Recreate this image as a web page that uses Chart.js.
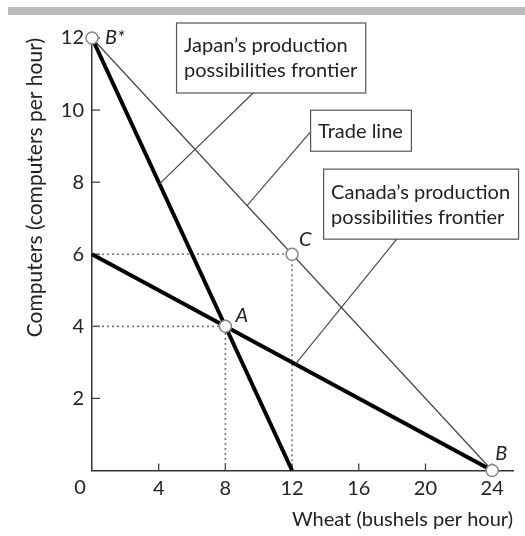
<!DOCTYPE html>
<html>
<head>
<meta charset="utf-8">
<script src="https://cdn.jsdelivr.net/npm/chart.js@4.4.0/dist/chart.umd.min.js"></script>
<style>
  html, body { margin:0; padding:0; background:#fff; }
  #wrap { position:relative; width:525px; height:536px; }
  #topbar { position:absolute; left:8px; top:7px; width:517px; height:8px; background:#bbb; }
</style>
</head>
<body>
<div id="wrap"><div id="topbar"></div><canvas id="ppf"></canvas></div>
<script>
// --- data ---
const xTicks = [0, 4, 8, 12, 16, 20, 24];
const yTicks = [2, 4, 6, 8, 10, 12];
const japanPPF  = [{x:0, y:12}, {x:12, y:0}];
const canadaPPF = [{x:0, y:6},  {x:24, y:0}];
const tradeLine = [{x:0, y:12}, {x:24, y:0}];
const guideC    = [{x:0, y:6}, {x:12, y:6}, {x:12, y:0}];
const guideA    = [{x:0, y:4}, {x:8, y:4},  {x:8, y:0}];
const pointNames  = ['B*', 'A', 'C', 'B'];
const pointValues = [{x:0, y:12}, {x:8, y:4}, {x:12, y:6}, {x:24, y:0}];
const calloutTexts   = [['Japan\u2019s production', 'possibilities frontier'], ['Trade line'], ['Canada\u2019s production', 'possibilities frontier']];
const calloutTargets = [{x:4.05, y:7.95}, {x:9.3, y:7.35}, {x:12.2, y:2.95}];

const FONT = 'Lato';
const INK = '#222';
const FS = 20;

// callout box placement (data-space top-left corner) and where the leader leaves the box
const calloutLayout = [
  { x:5.04,  y:12.43, leader:'bottom', at:0.41 },
  { x:13.08, y:10.01, leader:'left',   at:0.55 },
  { x:13.86, y:8.375, leader:'bottom', at:0.38 }
];
// label offsets for the named points (px)
const nameOffsets = [[13, 0], [10, -11], [7, -15], [3, -17]];

const overlay = {
  id: 'overlay',
  beforeDatasetsDraw(chart) {
    const {ctx, scales:{x, y}} = chart;
    ctx.save();
    ctx.strokeStyle = '#333';
    ctx.lineWidth = 1.2;
    xTicks.forEach(v => {
      if (v === 0) return;
      const px = x.getPixelForValue(v);
      ctx.beginPath(); ctx.moveTo(px, y.bottom); ctx.lineTo(px, y.bottom - 7); ctx.stroke();
    });
    yTicks.forEach(v => {
      const py = y.getPixelForValue(v);
      ctx.beginPath(); ctx.moveTo(x.left, py); ctx.lineTo(x.left + 8, py); ctx.stroke();
    });
    ctx.restore();
  },
  afterDatasetsDraw(chart) {
    const {ctx, scales:{x, y}} = chart;
    ctx.save();
    // corner zero
    ctx.fillStyle = INK;
    ctx.font = FS + 'px ' + FONT;
    ctx.textAlign = 'center'; ctx.textBaseline = 'middle';
    ctx.fillText('0', x.getPixelForValue(0) - 12, y.bottom + 17);

    // point names
    ctx.font = 'italic ' + FS + 'px ' + FONT;
    ctx.textAlign = 'left';
    pointNames.forEach((n, i) => {
      const px = x.getPixelForValue(pointValues[i].x) + nameOffsets[i][0];
      const py = y.getPixelForValue(pointValues[i].y) + nameOffsets[i][1];
      ctx.fillText(n, px, py);
    });

    // callouts
    ctx.font = FS + 'px ' + FONT;
    const lh = 25, padX = 8, padY = 10;
    calloutTexts.forEach((lines, i) => {
      const L = calloutLayout[i];
      const bx = x.getPixelForValue(L.x), by = y.getPixelForValue(L.y);
      const w = Math.max(...lines.map(t => ctx.measureText(t).width)) + padX * 2;
      const h = lines.length * lh + padY * 2 - (lines.length === 1 ? 4 : 0);
      let sx, sy;
      if (L.leader === 'bottom') { sx = bx + w * L.at; sy = by + h; }
      else { sx = bx; sy = by + h * L.at; }
      const tx = x.getPixelForValue(calloutTargets[i].x), ty = y.getPixelForValue(calloutTargets[i].y);
      ctx.strokeStyle = '#444'; ctx.lineWidth = 1.1;
      ctx.beginPath(); ctx.moveTo(sx, sy); ctx.lineTo(tx, ty); ctx.stroke();
      ctx.fillStyle = '#fff';
      ctx.fillRect(bx, by, w, h);
      ctx.strokeStyle = '#555'; ctx.lineWidth = 1.2;
      ctx.strokeRect(bx + 0.5, by + 0.5, w, h);
      ctx.fillStyle = INK; ctx.textAlign = 'left'; ctx.textBaseline = 'middle';
      const top = by + h / 2 - lh * lines.length / 2;
      lines.forEach((t, k) => ctx.fillText(t, bx + padX, top + lh * k + lh / 2 + 1));
    });
    ctx.restore();
  }
};

const lineSet = (data, width, color, dash) => ({
  data, showLine:true, pointRadius:0, borderColor:color, borderWidth:width,
  borderDash:dash || [], fill:false, tension:0, clip:false
});

new Chart(document.getElementById('ppf'), {
  type: 'scatter',
  data: {
    datasets: [
      { data: pointValues, showLine:false, pointRadius:6, pointBackgroundColor:'#fff',
        pointBorderColor:'#888', pointBorderWidth:1.5, clip:false },
      lineSet(japanPPF, 4, '#000'),
      lineSet(canadaPPF, 4, '#000'),
      lineSet(tradeLine, 1.2, '#444'),
      lineSet(guideC, 1.6, '#777', [2, 3]),
      lineSet(guideA, 1.6, '#777', [2, 3])
    ]
  },
  options: {
    responsive: true,
    maintainAspectRatio: false,
    animation: false,
    layout: { padding: { top:38, right:12, left:0, bottom:0 } },
    plugins: { legend:{ display:false }, tooltip:{ enabled:false } },
    scales: {
      x: {
        type:'linear', min:0, max:25.25,
        afterBuildTicks: s => { s.ticks = xTicks.map(v => ({value:v})); },
        afterFit: s => { s.height = 65.5; },
        grid: { display:false, drawTicks:false },
        border: { display:true, color:'#333', width:1.5 },
        ticks: { color:INK, font:{ family:FONT, size:FS }, padding:6, maxRotation:0,
                 callback: v => v === 0 ? '' : String(v) },
        title: { display:true, text:'Wheat (bushels per hour)', align:'end', color:INK,
                 font:{ family:FONT, size:FS }, padding:{ top:0, bottom:4 } }
      },
      y: {
        type:'linear', min:0, max:12,
        afterBuildTicks: s => { s.ticks = yTicks.map(v => ({value:v})); },
        afterFit: s => { s.width = 92; },
        grid: { display:false, drawTicks:false },
        border: { display:true, color:'#333', width:1.5 },
        ticks: { color:INK, font:{ family:FONT, size:FS }, padding:8 },
        title: { display:true, text:'Computers (computers per hour)', align:'end', color:INK,
                 font:{ family:FONT, size:21 }, padding:{ top:23, bottom:0 } }
      }
    }
  },
  plugins: [overlay]
});
</script>
</body>
</html>
